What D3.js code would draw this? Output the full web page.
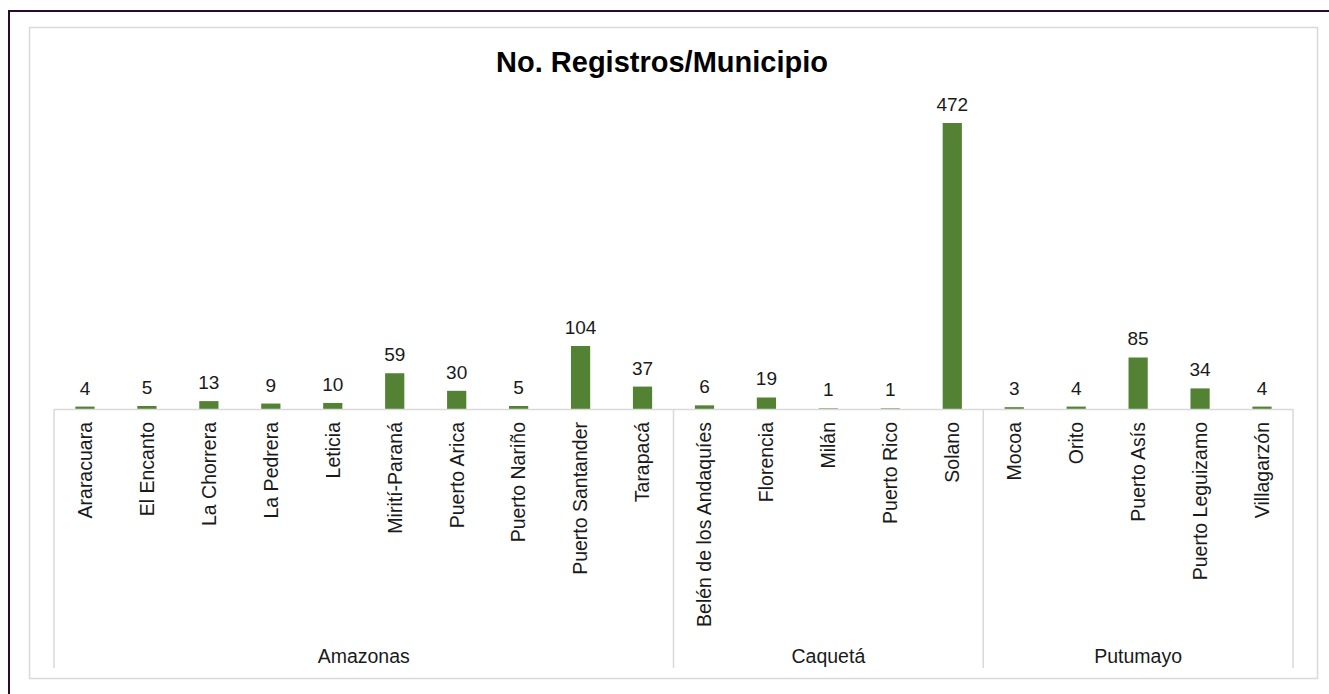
<!DOCTYPE html>
<html>
<head>
<meta charset="utf-8">
<script src="https://cdn.jsdelivr.net/npm/d3@7"></script>
<style>
html,body{margin:0;padding:0;background:#fff;}
svg{display:block;font-family:Arial,"Liberation Sans",sans-serif;}
</style>
</head>
<body>
<svg id="chart" width="1329" height="694"></svg>
<script>
const municipios = ["Araracuara","El Encanto","La Chorrera","La Pedrera","Leticia","Mirití-Paraná","Puerto Arica","Puerto Nariño","Puerto Santander","Tarapacá","Belén de los Andaquíes","Florencia","Milán","Puerto Rico","Solano","Mocoa","Orito","Puerto Asís","Puerto Leguizamo","Villagarzón"];
const registros = [4,5,13,9,10,59,30,5,104,37,6,19,1,1,472,3,4,85,34,4];
const departamentos = ["Amazonas","Caquetá","Putumayo"];
const deptoSize = [10,5,5];
const title = "No. Registros/Municipio";

const svg = d3.select("#chart");
const W = 1329, H = 694;
const axisY = 409, left = 54, right = 1293, sepBottom = 668;
const green = "#548235", gridCol = "#d9d9d9";

// outer dark frame (clipped on right/bottom)
svg.append("path").attr("d", `M9,${H} L9,11 L${W},11`).attr("fill","none").attr("stroke","#2b0a2e").attr("stroke-width",2);
// chart area border
svg.append("rect").attr("x",29.5).attr("y",27.5).attr("width",1288).attr("height",651)
  .attr("fill","#fff").attr("stroke",gridCol).attr("stroke-width",1.5);

svg.append("text").attr("x",662).attr("y",72).attr("text-anchor","middle")
  .attr("font-size",29).attr("font-weight","bold").attr("fill","#000").text(title);

const x = d3.scaleBand().domain(d3.range(municipios.length)).range([left,right]).padding(0);
const y = d3.scaleLinear().domain([0,472]).range([axisY,123]);
const bw = x.bandwidth()*0.31;

// bars
svg.append("g").selectAll("rect").data(registros).join("rect")
  .attr("x",(d,i)=>x(i)+x.bandwidth()/2-bw/2)
  .attr("y",d=>y(d))
  .attr("width",bw)
  .attr("height",d=>axisY-y(d))
  .attr("fill",green);

// value labels
svg.append("g").selectAll("text").data(registros).join("text")
  .attr("x",(d,i)=>x(i)+x.bandwidth()/2)
  .attr("y",d=>y(d)-12)
  .attr("text-anchor","middle").attr("font-size",19).attr("fill","#1a1a1a")
  .text(d=>d);

// axis line
svg.append("line").attr("x1",left).attr("x2",right).attr("y1",axisY+0.5).attr("y2",axisY+0.5)
  .attr("stroke",gridCol).attr("stroke-width",1.5);

// group separators
let cum = [0];
deptoSize.forEach(s=>cum.push(cum[cum.length-1]+s));
cum.forEach(c=>{
  const xx = c < municipios.length ? x(c) : right;
  svg.append("line").attr("x1",xx).attr("x2",xx).attr("y1",axisY).attr("y2",sepBottom)
    .attr("stroke",gridCol).attr("stroke-width",1.5);
});

// category labels (rotated)
svg.append("g").selectAll("text").data(municipios).join("text")
  .attr("transform",(d,i)=>`translate(${x(i)+x.bandwidth()/2},${axisY+13}) rotate(-90)`)
  .attr("text-anchor","end").attr("dy","0.35em")
  .attr("font-size",19.5).attr("fill","#1a1a1a").text(d=>d);

// group labels
departamentos.forEach((g,k)=>{
  const x0 = x(cum[k]);
  const x1 = cum[k+1] < municipios.length ? x(cum[k+1]) : right;
  svg.append("text").attr("x",(x0+x1)/2).attr("y",663).attr("text-anchor","middle")
    .attr("font-size",19.5).attr("fill","#1a1a1a").text(g);
});
</script>
</body>
</html>
